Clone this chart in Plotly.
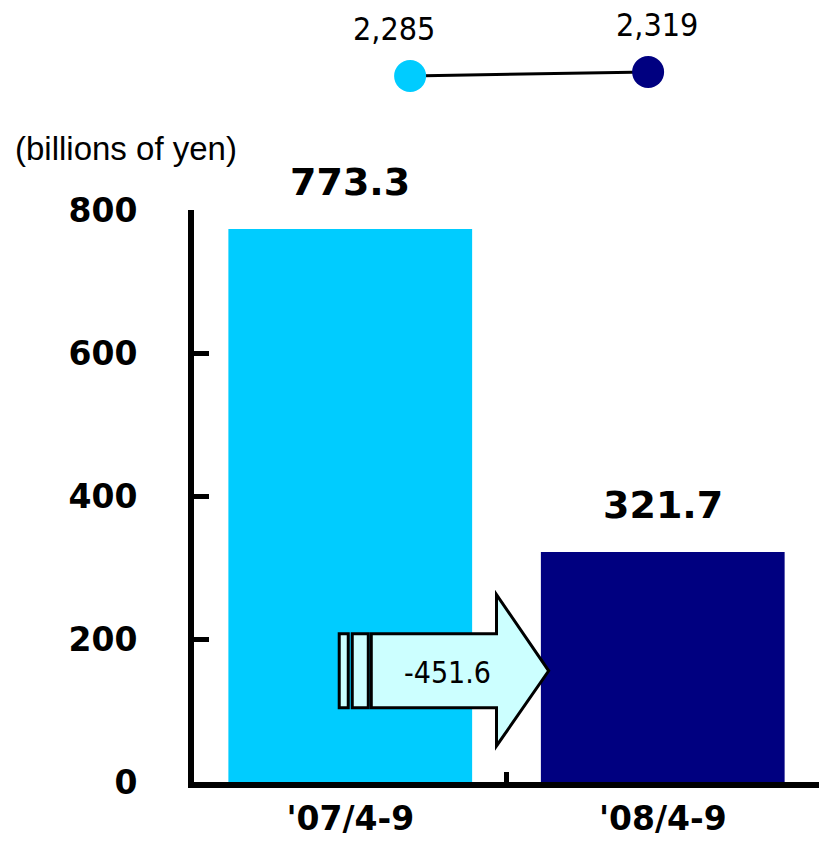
import plotly.graph_objects as go

# ---- data ----
categories = ["'07/4-9", "'08/4-9"]
values = [773.3, 321.7]
bar_colors = ["#00CCFF", "#000080"]
top_values = [2285, 2319]
y_ticks = [0, 200, 400, 600, 800]
unit_label = "(billions of yen)"

diff = round(values[1] - values[0], 1)

BOLD = "DejaVu Sans, Verdana, sans-serif"
NARROW = "DejaVu Sans Condensed, Liberation Sans Narrow, sans-serif"

W, H = 821, 841
ML, MR, MT, MB = 194, 2, 40, 59
pw, ph = W - ML - MR, H - MT - MB

fig = go.Figure()

fig.add_trace(go.Bar(
    x=categories, y=values, marker=dict(color=bar_colors, line=dict(width=0)),
    width=0.78, xaxis="x", yaxis="y", showlegend=False, hoverinfo="skip",
))

fig.add_trace(go.Scatter(
    x=[0, 1], y=top_values, mode="lines+markers",
    line=dict(color="black", width=3),
    marker=dict(size=32, color=bar_colors, line=dict(width=0)),
    xaxis="x2", yaxis="y2", showlegend=False, hoverinfo="skip",
))

annotations = []
for c, v in zip(categories, values):
    annotations.append(dict(
        x=c, y=v, xref="x", yref="y", text=f"{v:.1f}", showarrow=False,
        yanchor="middle", yshift=47,
        font=dict(family=BOLD, size=38, color="black", weight="bold"),
    ))
for i, (v, xs) in enumerate(zip(top_values, [-16, 9])):
    annotations.append(dict(
        x=i, y=v, xref="x2", yref="y2", text=f"{v:,}", showarrow=False,
        yanchor="middle", yshift=47, xshift=xs,
        font=dict(family=NARROW, size=32, color="black"),
    ))
annotations.append(dict(
    x=(13 - ML) / pw, y=(H - MB - 148) / ph, xref="paper", yref="paper",
    text=unit_label, showarrow=False, xanchor="left", yanchor="middle",
    font=dict(family="Liberation Sans, Arial, sans-serif", size=33, color="black"),
))
annotations.append(dict(
    x=0.311, y=152.7, xref="x", yref="y", text=f"{diff:.1f}", showarrow=False,
    xanchor="center", yanchor="middle",
    font=dict(family=NARROW, size=30, color="black"),
))

# arrow geometry (data units of the bar axes)
ax = dict(r1=(-0.0353, -0.0064), r2=(0.0064, 0.0577), body0=0.0673, base=0.468, tip=0.635)
ay = dict(top=207.4, bot=103.7, htop=262.0, hbot=50.4, mid=155.5)
fill = "#CCFFFF"
shapes = []
for (x0, x1) in (ax["r1"], ax["r2"]):
    shapes.append(dict(type="rect", xref="x", yref="y", x0=x0, x1=x1, y0=ay["bot"], y1=ay["top"],
                       fillcolor=fill, line=dict(color="black", width=3), layer="above"))
path = (f"M {ax['body0']},{ay['top']} L {ax['base']},{ay['top']} L {ax['base']},{ay['htop']} "
        f"L {ax['tip']},{ay['mid']} L {ax['base']},{ay['hbot']} L {ax['base']},{ay['bot']} "
        f"L {ax['body0']},{ay['bot']} Z")
shapes.append(dict(type="path", xref="x", yref="y", path=path, fillcolor=fill,
                   line=dict(color="black", width=3), layer="above"))

ytop_frac = (H - MB - 210) / ph
y2_bot_frac = (H - MB - 110) / ph

fig.update_layout(
    width=W, height=H, margin=dict(l=ML, r=MR, t=MT, b=MB, autoexpand=False),
    paper_bgcolor="white", plot_bgcolor="white",
    xaxis=dict(
        domain=[0, 1], range=[-0.5, 1.5], type="category", automargin=False,
        showline=True, linecolor="black", linewidth=6,
        ticks="inside", tickson="boundaries", ticklen=10, tickwidth=5, tickcolor="black",
        showgrid=False, zeroline=False, ticklabelstandoff=2,
        tickfont=dict(family=BOLD, size=33, color="black", weight="bold"),
    ),
    yaxis=dict(
        domain=[0, ytop_frac], range=[0, 800], tickvals=y_ticks, automargin=False,
        showline=True, linecolor="black", linewidth=6,
        ticks="inside", ticklen=15, tickwidth=5, tickcolor="black",
        showgrid=False, zeroline=False, ticklabelstandoff=44,
        tickfont=dict(family=BOLD, size=33, color="black", weight="bold"),
    ),
    xaxis2=dict(domain=[0, 1], range=[-0.908, 1.718], overlaying="x", visible=False,
                anchor="y2"),
    yaxis2=dict(domain=[y2_bot_frac, 1], range=[1996, 2591], visible=False, anchor="x2"),
    annotations=annotations, shapes=shapes,
)

fig.write_html(
    "out.html",
    config={"displayModeBar": False},
    post_script="document.body.style.margin='0';document.body.style.overflow='hidden';",
)
